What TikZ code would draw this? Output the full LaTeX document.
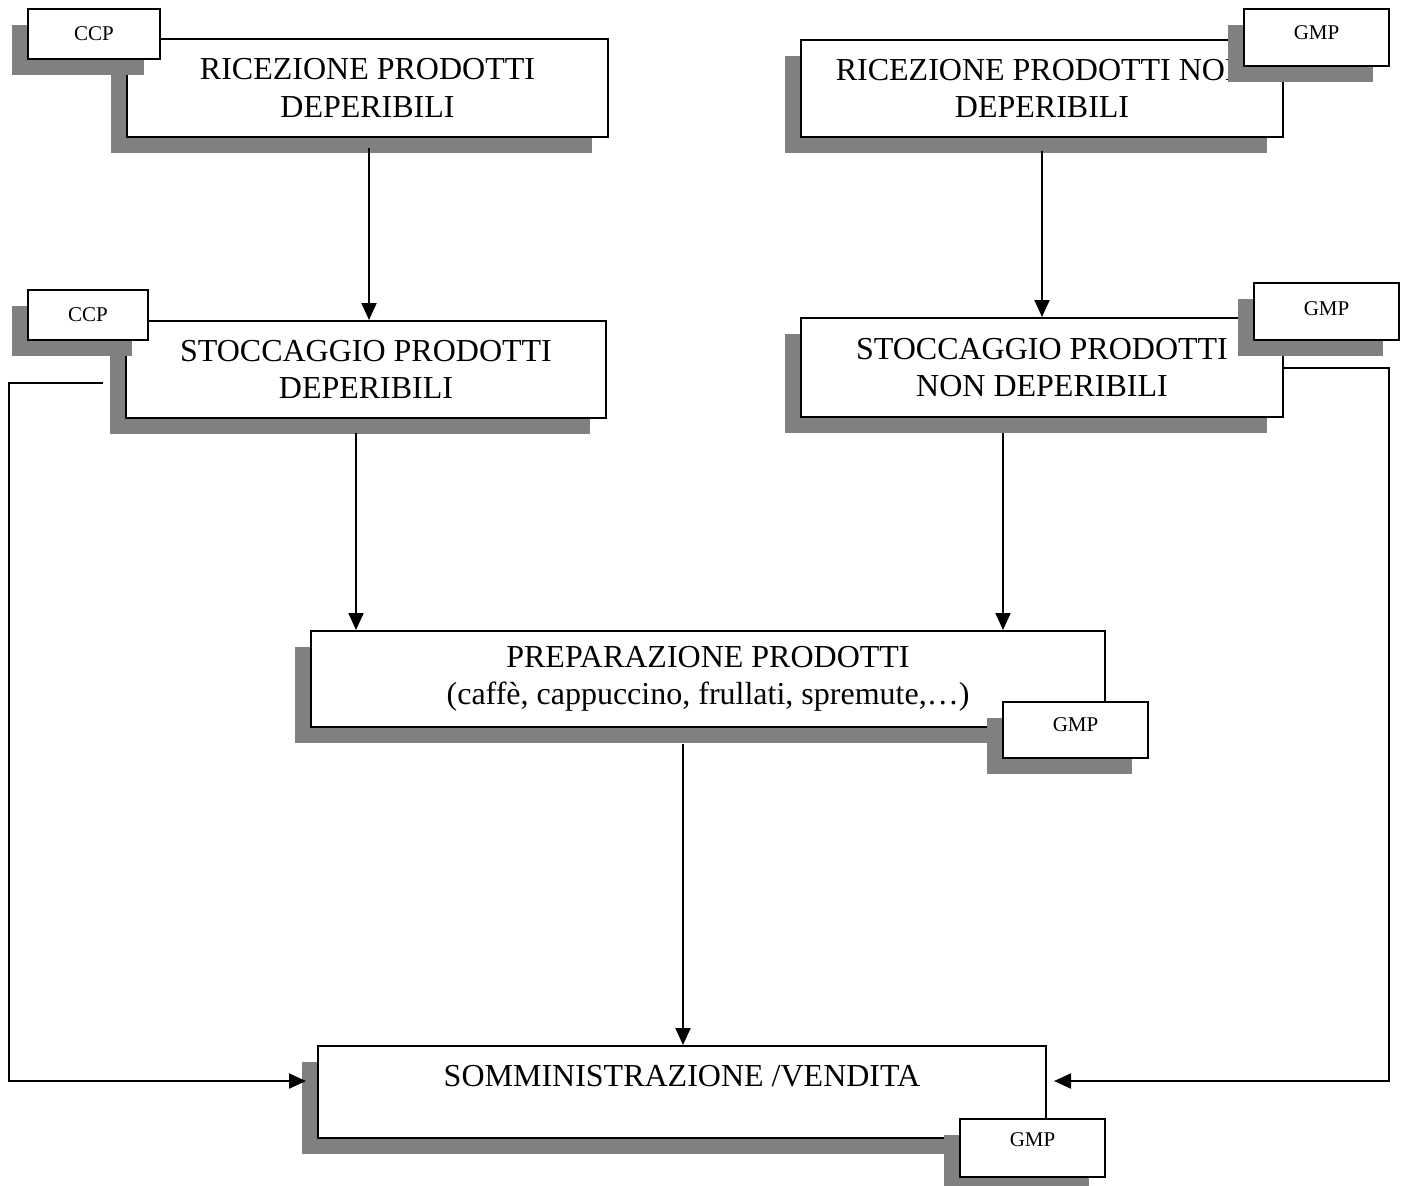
\documentclass[tikz,border=0pt]{standalone}
\usepackage{fontspec}
\setmainfont{Liberation Serif}
\usepackage{tikz}
\usetikzlibrary{calc,positioning,shadows,arrows.meta}
\definecolor{shadowgray}{HTML}{808080}

\begin{document}
\begin{tikzpicture}[
    x=0.5pt, y=-0.5pt,
    every node/.style={font=\fontsize{16}{18.7}\selectfont},
    procbox/.style 2 args={draw, fill=white, line width=1pt, align=center,
                 minimum width=0.5pt*#1, minimum height=0.5pt*#2, inner sep=0pt,
                 drop shadow={shadow xshift=-8pt, shadow yshift=-8pt,
                              opacity=1, fill=shadowgray}},
    tagbox/.style 2 args={procbox={#1}{#2}, line width=0.9pt,
                 font=\fontsize{10.5}{12}\selectfont},
    flow/.style={line width=1pt, -{Triangle[length=8.5pt,width=7.5pt]}},
]

\useasboundingbox (0,0) rectangle (1402,1185);

% Reception
\node[procbox={481}{98}] (b1) at (367.5,88) {RICEZIONE PRODOTTI\\DEPERIBILI};
\node[tagbox={132}{50}] (t1) at (94,34) {CCP};
\node[procbox={482}{97}] (b2) at (1042,88.5) {RICEZIONE PRODOTTI NON\\DEPERIBILI};
\node[tagbox={145}{57}, text depth=5pt] (t2) at (1316.5,37.5) {GMP};

% Storage
\node[procbox={480}{97}] (b3) at (366,369.5) {STOCCAGGIO PRODOTTI\\DEPERIBILI};
\node[tagbox={120}{50}] (t3) at (88,315) {CCP};
\node[procbox={482}{99}] (b4) at (1042,367.5) {STOCCAGGIO PRODOTTI\\NON DEPERIBILI};
\node[tagbox={145}{57}, text depth=3pt] (t4) at (1326.5,311.5) {GMP};

% Preparation
\node[procbox={794}{96}] (b5) at (708,679)
  {PREPARAZIONE PRODOTTI\\(caffè, cappuccino, frullati, spremute,…)};
\node[tagbox={145}{56}, text depth=5pt] (t5) at (1075.5,730) {GMP};

% Sale
\node[procbox={728}{92}, text depth=16pt] (b6) at (682,1092) {SOMMINISTRAZIONE /VENDITA};
\node[tagbox={145}{58}, text depth=8pt] (t6) at (1032.5,1148) {GMP};

% Flow
\draw[flow] ([xshift=0.75pt,yshift=-5pt]b1.south) -- ([xshift=0.75pt]b1.south |- b3.north);
\draw[flow] ([yshift=-6.5pt]b2.south) -- (b2.south |- b4.north);
\draw[flow] ([xshift=-5pt,yshift=-7pt]b3.south) -- ([xshift=-5pt]b3.south |- b5.north);
\draw[flow] ([xshift=-19.5pt,yshift=-7.5pt]b4.south) -- ([xshift=-19.5pt]b4.south |- b5.north);
\draw[flow] ([xshift=-12.5pt,yshift=-8pt]b5.south) -- ([xshift=-12.5pt]b5.south |- b6.north);

% Side loops
\coordinate (lx) at (9,0);
\coordinate (rx) at (1389,0);
\coordinate (l3) at ($(b3.west)+(-22,13.5)$);
\coordinate (in6l) at ($(b6.west)+(-11,-11)$);
\coordinate (in6r) at ($(b6.east)+(7,-11)$);
\draw[flow] (l3) -- (l3 -| lx) |- (in6l);
\draw[flow] (b4.east) -- (b4.east -| rx) |- (in6r);

\end{tikzpicture}
\end{document}
